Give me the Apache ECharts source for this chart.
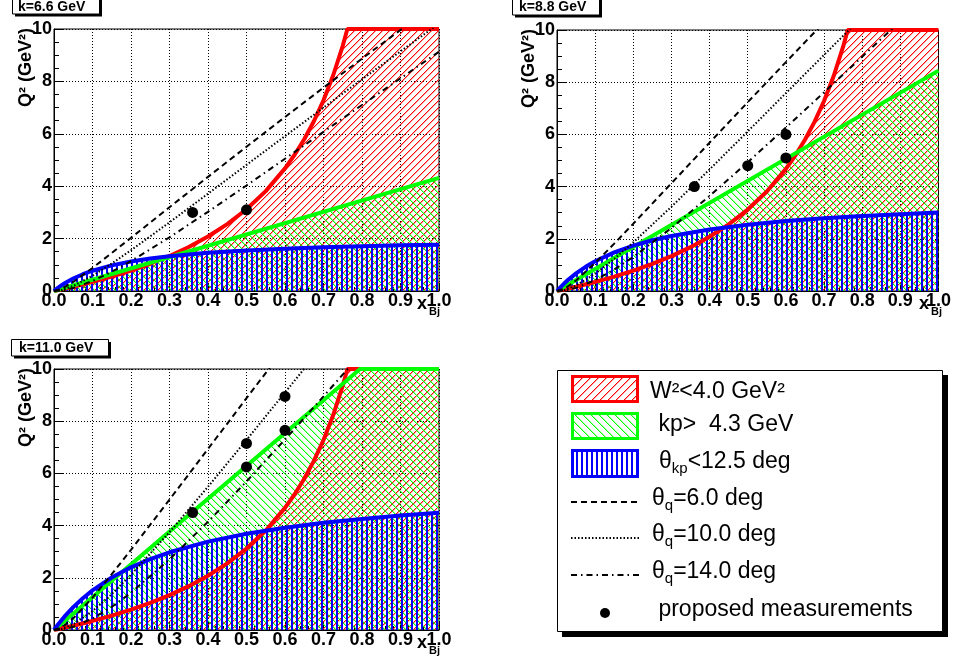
<!DOCTYPE html>
<html><head><meta charset="utf-8">
<script src="https://cdn.jsdelivr.net/npm/echarts@6/dist/echarts.min.js"></script>
<style>html,body{margin:0;padding:0;background:#fff}#c{width:954px;height:663px}</style>
</head><body><div id="c"></div>
<script>
// ---------------- data ----------------
const xTicks = [0,0.1,0.2,0.3,0.4,0.5,0.6,0.7,0.8,0.9,1.0];
const yTicks = [0,2,4,6,8,10];
const panelTitles = ['k=6.6 GeV','k=8.8 GeV','k=11.0 GeV'];

// W^2 < 4.0 GeV^2 boundary (same in all panels)
const redW2 = [[0,0],[0.05,0.164],[0.1,0.347],[0.15,0.551],[0.2,0.780],[0.25,1.040],[0.3,1.337],[0.35,1.680],[0.4,2.080],[0.45,2.553],[0.5,3.120],[0.55,3.813],[0.6,4.680],[0.625,5.200],[0.65,5.794],[0.675,6.479],[0.7,7.279],[0.725,8.225],[0.75,9.359],[0.762,10],[1,10]];

// kp > 4.3 GeV boundary
const green66 = [[0,0],[1,4.316]];
const green88 = [[0,0],[1,8.444]];
const green110 = [[0,0],[0.795,10],[1,10]];

// theta_kp < 12.5 deg boundary
const blue66 = [[0,0],[0.01,0.117],[0.02,0.221],[0.03,0.315],[0.05,0.476],[0.075,0.641],[0.1,0.774],[0.15,0.978],[0.2,1.126],[0.25,1.239],[0.3,1.327],[0.4,1.458],[0.5,1.549],[0.6,1.616],[0.7,1.668],[0.8,1.709],[0.9,1.742],[1.0,1.770]];
const blue88 = [[0,0],[0.01,0.158],[0.02,0.303],[0.03,0.437],[0.05,0.674],[0.075,0.926],[0.1,1.139],[0.15,1.479],[0.2,1.739],[0.25,1.943],[0.3,2.109],[0.4,2.360],[0.5,2.541],[0.6,2.679],[0.7,2.786],[0.8,2.873],[0.9,2.944],[1.0,3.004]];
const blue110 = [[0,0],[0.01,0.199],[0.02,0.385],[0.03,0.559],[0.05,0.875],[0.075,1.219],[0.1,1.518],[0.15,2.011],[0.2,2.401],[0.25,2.717],[0.3,2.978],[0.4,3.385],[0.5,3.687],[0.6,3.921],[0.7,4.106],[0.8,4.257],[0.9,4.383],[1.0,4.489]];

// theta_q = 6, 10, 14 deg lines
const tq6_66 = [[0,0],[0.02,0.084],[0.05,0.346],[0.1,0.880],[0.15,1.450],[0.2,2.031],[0.3,3.197],[0.4,4.357],[0.5,5.506],[0.6,6.641],[0.7,7.762],[0.8,8.869],[0.9,9.962],[1.0,11.041]];
const tq10_66 = [[0,0],[0.02,0.038],[0.05,0.192],[0.1,0.581],[0.15,1.049],[0.2,1.555],[0.3,2.621],[0.4,3.714],[0.5,4.814],[0.6,5.910],[0.7,6.999],[0.8,8.079],[0.9,9.147],[1.0,10.204]];
const tq14_66 = [[0,0],[0.02,0.021],[0.05,0.114],[0.1,0.380],[0.15,0.734],[0.2,1.141],[0.3,2.049],[0.4,3.023],[0.5,4.028],[0.6,5.049],[0.7,6.074],[0.8,7.098],[0.9,8.118],[1.0,9.132]];
const tq6_88 = [[0,0],[0.02,0.092],[0.05,0.403],[0.1,1.076],[0.15,1.815],[0.2,2.579],[0.3,4.129],[0.4,5.684],[0.5,7.233],[0.6,8.770],[0.7,10.295]];
const tq10_88 = [[0,0],[0.02,0.040],[0.05,0.209],[0.1,0.662],[0.15,1.232],[0.2,1.865],[0.3,3.230],[0.4,4.660],[0.5,6.115],[0.6,7.580],[0.7,9.046],[0.8,10.507]];
const tq14_88 = [[0,0],[0.02,0.021],[0.05,0.120],[0.1,0.415],[0.15,0.822],[0.2,1.305],[0.3,2.416],[0.4,3.642],[0.5,4.934],[0.6,6.263],[0.7,7.614],[0.8,8.976],[0.9,10.342]];
const tq6_110 = [[0,0],[0.02,0.097],[0.05,0.447],[0.1,1.241],[0.15,2.137],[0.2,3.073],[0.3,4.995],[0.4,6.937],[0.5,8.881],[0.6,10.818]];
const tq10_110 = [[0,0],[0.02,0.041],[0.05,0.221],[0.1,0.722],[0.15,1.374],[0.2,2.116],[0.3,3.749],[0.4,5.489],[0.5,7.281],[0.6,9.099],[0.7,10.928]];
const tq14_110 = [[0,0],[0.02,0.021],[0.05,0.124],[0.1,0.438],[0.15,0.885],[0.2,1.427],[0.3,2.704],[0.4,4.146],[0.5,5.691],[0.6,7.300],[0.7,8.950],[0.8,10.627]];

// proposed measurements
const pts66 = [[0.36,3.0],[0.5,3.1]];
const pts88 = [[0.36,4.0],[0.5,4.8],[0.6,6.0],[0.6,5.1]];
const pts110 = [[0.36,4.5],[0.5,7.15],[0.5,6.25],[0.6,8.95],[0.6,7.65]];

const legendLabels = ['W²<4.0 GeV²',' kp>  4.3 GeV','θ|kp|<12.5 deg','θ|q|=6.0 deg','θ|q|=10.0 deg','θ|q|=14.0 deg',' proposed measurements'];

// ---------------- rendering ----------------
const FONT = '"Liberation Sans", Arial, Helvetica, sans-serif';

function hatch(rgb, kind, S) {
  const c = document.createElement('canvas');
  c.width = S; c.height = S;
  const g = c.getContext('2d');
  const img = g.createImageData(S, S);
  function put(x, y, a) {
    x = ((x % S) + S) % S; y = ((y % S) + S) % S;
    const k = (y * S + x) * 4;
    img.data[k] = rgb[0]; img.data[k + 1] = rgb[1]; img.data[k + 2] = rgb[2];
    img.data[k + 3] = Math.max(img.data[k + 3], a);
  }
  for (let i = 0; i < S; i++) {
    if (kind === '/') { put(i, S - 1 - i, 255); put(i + 1, S - 1 - i, 90); }
    else if (kind === '\\') { put(i, i, 255); put(i + 1, i, 90); }
    else { put(1, i, 255); put(2, i, 255); }
  }
  g.putImageData(img, 0, 0);
  return { image: c, repeat: 'repeat' };
}
const RED = '#ff0000', GREEN = '#00ff00', BLUE = '#0000ff';
const hRed = hatch([255, 0, 0], '/', 7), hGreen = hatch([0, 255, 0], '\\', 7), hBlue = hatch([0, 0, 255], 'v', 5);
const hRedL = hatch([255, 0, 0], '/', 8), hGreenL = hatch([0, 255, 0], '\\', 8), hBlueL = hatch([0, 0, 255], 'v', 5);

const panels = [
  { grid: { left: 54, top: 29, width: 385, height: 262 }, green: green66, blue: blue66, tq: [tq6_66, tq10_66, tq14_66], pts: pts66,
    box: [12.5, -2.5, 87, 16.5], textPos: [18, 7] },
  { grid: { left: 557, top: 30, width: 384, height: 261 }, green: green88, blue: blue88, tq: [tq6_88, tq10_88, tq14_88], pts: pts88,
    box: [512.5, -2.5, 87, 17.5], textPos: [519, 7] },
  { grid: { left: 54, top: 369, width: 385, height: 261 }, green: green110, blue: blue110, tq: [tq6_110, tq10_110, tq14_110], pts: pts110,
    box: [11.5, 339.5, 97, 16.5], textPos: [19, 348.5] }
];
const dashTypes = [[6, 4], [1.5, 2], [6, 4, 1.5, 4]];

const grids = [], xAxes = [], yAxes = [], series = [], graphic = [];
panels.forEach((p, i) => {
  grids.push(Object.assign({ show: true, borderColor: '#000', borderWidth: 1, backgroundColor: '#fff' }, p.grid));
  xAxes.push({
    gridIndex: i, type: 'value', min: xTicks[0], max: xTicks[xTicks.length - 1], interval: 0.1,
    axisLine: { show: true, onZero: false, lineStyle: { color: '#000', width: 1 } },
    axisTick: { show: true, inside: true, length: 8, lineStyle: { color: '#000' } },
    minorTick: { show: true, splitNumber: 5, length: 4, lineStyle: { color: '#000' } },
    splitLine: { show: true, lineStyle: { color: '#000', type: [1, 2], width: 1 } },
    axisLabel: { fontSize: 18, fontWeight: 'bold', fontFamily: FONT, color: '#000', margin: 1,
      formatter: v => v.toFixed(1) }
  });
  yAxes.push({
    gridIndex: i, type: 'value', min: yTicks[0], max: yTicks[yTicks.length - 1], interval: 2,
    axisLine: { show: true, onZero: false, lineStyle: { color: '#000', width: 1 } },
    axisTick: { show: true, inside: true, length: 10, lineStyle: { color: '#000' } },
    minorTick: { show: true, splitNumber: 4, length: 5, lineStyle: { color: '#000' } },
    splitLine: { show: true, lineStyle: { color: '#000', type: [1, 2], width: 1 } },
    axisLabel: { fontSize: 18, fontWeight: 'bold', fontFamily: FONT, color: '#000', margin: 2 }
  });
  const base = { xAxisIndex: i, yAxisIndex: i, type: 'line', symbol: 'none', showSymbol: false, silent: true, animation: false, clip: true };
  [[redW2, hRed], [p.green, hGreen], [p.blue, hBlue]].forEach(([d, h]) => {
    series.push(Object.assign({}, base, { data: d, z: 1, lineStyle: { width: 0, opacity: 0 }, areaStyle: { color: h, opacity: 1 } }));
  });
  [[redW2, RED], [p.green, GREEN], [p.blue, BLUE]].forEach(([d, c]) => {
    series.push(Object.assign({}, base, { data: d, z: 3, lineStyle: { width: 4, color: c } }));
  });
  p.tq.forEach((d, k) => {
    series.push(Object.assign({}, base, { data: d, z: 4, lineStyle: { width: 2, color: '#000', type: dashTypes[k] } }));
  });
  series.push({ type: 'scatter', xAxisIndex: i, yAxisIndex: i, data: p.pts, symbol: 'circle', symbolSize: 11,
    itemStyle: { color: '#000', opacity: 1 }, z: 5, silent: true, animation: false });

  // panel title box
  const [bx, by, bw, bh] = p.box;
  graphic.push({ type: 'rect', shape: { x: bx + 2.5, y: by + 2.5, width: bw, height: bh }, style: { fill: '#000' }, z: 20 });
  graphic.push({ type: 'rect', shape: { x: bx, y: by, width: bw, height: bh }, style: { fill: '#fff', stroke: '#000', lineWidth: 1 }, z: 21 });
  graphic.push({ type: 'text', x: p.textPos[0], y: p.textPos[1], z: 22,
    style: { text: panelTitles[i], fontSize: 14, fontWeight: 'bold', fontFamily: FONT, fill: '#000', align: 'left', verticalAlign: 'middle' } });

  // axis titles
  const g = p.grid;
  graphic.push({ type: 'text', x: g.left - 28, y: g.top - 1, rotation: Math.PI / 2, z: 22,
    style: { text: 'Q² (GeV²)', fontSize: 18, fontWeight: 'bold', fontFamily: FONT, fill: '#000', align: 'right', verticalAlign: 'middle' } });
  const bottom = g.top + g.height, right = g.left + g.width;
  graphic.push({ type: 'text', x: right - 22, y: bottom + 13, z: 22,
    style: { text: 'x', fontSize: 18, fontWeight: 'bold', fontFamily: FONT, fill: '#000', align: 'left', verticalAlign: 'middle' } });
  graphic.push({ type: 'text', x: right - 10, y: bottom + 21, z: 22,
    style: { text: 'Bj', fontSize: 11, fontWeight: 'bold', fontFamily: FONT, fill: '#000', align: 'left', verticalAlign: 'middle' } });
});

// ---------------- legend ----------------
graphic.push({ type: 'rect', shape: { x: 562, y: 375, width: 386, height: 262 }, style: { fill: '#000' }, z: 20 });
graphic.push({ type: 'rect', shape: { x: 557.5, y: 370.5, width: 385, height: 261 }, style: { fill: '#fff', stroke: '#000', lineWidth: 1 }, z: 21 });
const boxRows = [[RED, hRedL, 376.5, 25], [GREEN, hGreenL, 413.5, 25], [BLUE, hBlueL, 450.5, 26]];
boxRows.forEach(([c, h, y, hh]) => {
  graphic.push({ type: 'rect', shape: { x: 572.5, y: y, width: 65, height: hh }, style: { fill: '#fff' }, z: 22 });
  graphic.push({ type: 'rect', shape: { x: 572.5, y: y, width: 65, height: hh }, style: { fill: h, stroke: c, lineWidth: 3 }, z: 23 });
});
[[502, dashTypes[0]], [538, dashTypes[1]], [575, dashTypes[2]]].forEach(([y, d]) => {
  graphic.push({ type: 'line', shape: { x1: 571, y1: y, x2: 639, y2: y }, style: { stroke: '#000', lineWidth: 2, lineDash: d }, z: 23 });
});
graphic.push({ type: 'circle', shape: { cx: 605, cy: 613, r: 5 }, style: { fill: '#000' }, z: 23 });

const richL = {
  n: { fontSize: 23, fontFamily: FONT, fill: '#000', lineHeight: 28 },
  s: { fontSize: 15, fontFamily: FONT, fill: '#000', lineHeight: 15, verticalAlign: 'bottom' }
};
function richText(label) {
  if (label.indexOf('|') < 0) return '{n|' + label + '}';
  const parts = label.split('|');
  return '{n|' + parts[0] + '}{s|' + parts[1] + '}{n|' + parts[2] + '}';
}
const legendX = [650, 652, 659, 652, 652, 652, 652];
const legendY = [392, 425, 462, 499, 535, 572, 610];
legendLabels.forEach((lab, k) => {
  graphic.push({ type: 'text', x: legendX[k], y: legendY[k], z: 24,
    style: { text: richText(lab), rich: richL, fontSize: 23, fontFamily: FONT, fill: '#000', align: 'left', verticalAlign: 'middle' } });
});

const chart = echarts.init(document.getElementById('c'), null, { renderer: 'canvas' });
chart.setOption({
  animation: false,
  backgroundColor: '#fff',
  grid: grids, xAxis: xAxes, yAxis: yAxes, series: series, graphic: graphic
});
</script></body></html>
